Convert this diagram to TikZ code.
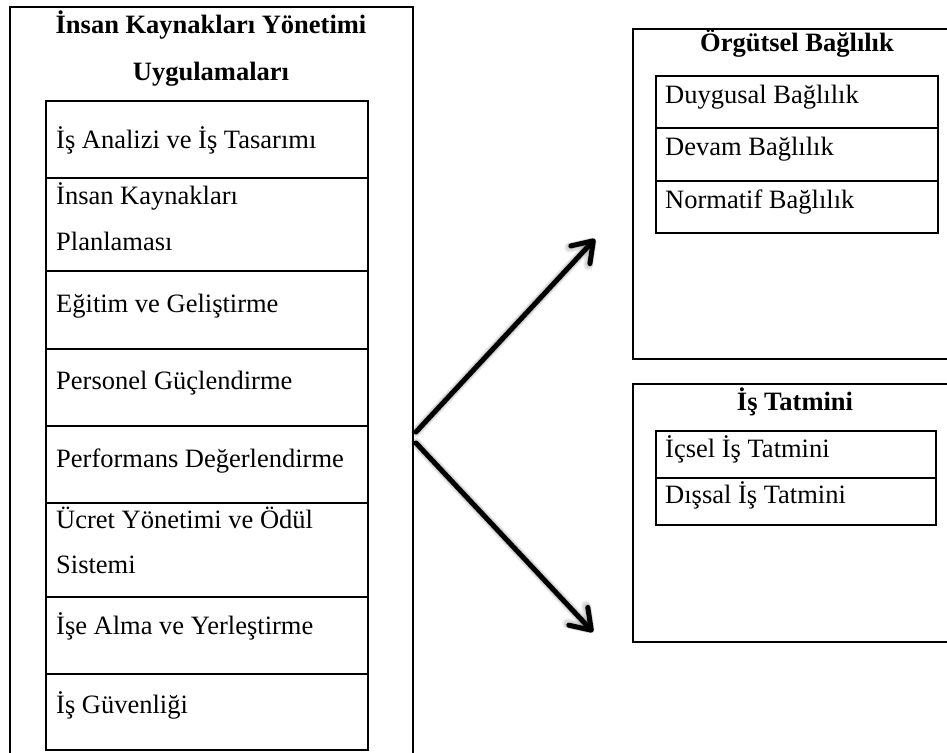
\documentclass[tikz,border=0pt]{standalone}
\usepackage{fontspec}
\setmainfont{Liberation Serif}
\usetikzlibrary{arrows.meta}
\begin{document}
\begin{tikzpicture}[x=1pt,y=-1pt,
  frame/.style={draw, line width=2.3pt, anchor=north west, inner sep=0pt, outer sep=0pt},
  lbl/.style={anchor=base west, inner sep=0pt, font=\fontsize{26.5}{30}\selectfont},
  ttl/.style={anchor=base, inner sep=0pt, font=\fontsize{26.5}{30}\selectfont\bfseries},
  tip/.style={-{Straight Barb[length=19pt,width=26pt,line cap=round,line join=round]}},
  link/.style={tip, line width=5pt, line cap=round, draw=black},
  linkshade/.style={tip, line width=#1, line cap=round, draw=black, opacity=0.08}
]
\useasboundingbox (0,0) rectangle (947,752);
\clip (0,0) rectangle (947,752);

% left panel: HR management practices
\node[frame, minimum width=403pt, minimum height=780pt] (hrm) at (10,7) {};
\node[ttl] (hrmT1) at (211,34) {İnsan Kaynakları Yönetimi};
\node[ttl] (hrmT2) at (211,80) {Uygulamaları};

\node[frame, minimum width=322pt, minimum height=77pt] (r1) at (46,101) {};
\node[frame, minimum width=322pt, minimum height=93pt] (r2) at (46,178) {};
\node[frame, minimum width=322pt, minimum height=78pt] (r3) at (46,271) {};
\node[frame, minimum width=322pt, minimum height=77pt] (r4) at (46,349) {};
\node[frame, minimum width=322pt, minimum height=77pt] (r5) at (46,426) {};
\node[frame, minimum width=322pt, minimum height=94pt] (r6) at (46,503) {};
\node[frame, minimum width=322pt, minimum height=77pt] (r7) at (46,597) {};
\node[frame, minimum width=322pt, minimum height=76pt] (r8) at (46,674) {};

\node[lbl] (t1) at (56,148) {İş Analizi ve İş Tasarımı};
\node[lbl] (t2a) at (56,204) {İnsan Kaynakları};
\node[lbl] (t2b) at (56,250) {Planlaması};
\node[lbl] (t3) at (56,312) {Eğitim ve Geliştirme};
\node[lbl] (t4) at (56,389) {Personel Güçlendirme};
\node[lbl] (t5) at (56,467) {Performans Değerlendirme};
\node[lbl] (t6a) at (56,528) {Ücret Yönetimi ve Ödül};
\node[lbl] (t6b) at (56,573) {Sistemi};
\node[lbl] (t7) at (56,634) {İşe Alma ve Yerleştirme};
\node[lbl] (t8) at (56,713) {İş Güvenliği};

% right panel: organisational commitment
\node[frame, minimum width=330pt, minimum height=330pt] (ob) at (633,29) {};
\node[ttl] (obT) at (797,52) {Örgütsel Bağlılık};
\node[frame, minimum width=282pt, minimum height=52pt] (o1) at (656,76) {};
\node[frame, minimum width=282pt, minimum height=53pt] (o2) at (656,128) {};
\node[frame, minimum width=282pt, minimum height=52pt] (o3) at (656,181) {};
\node[lbl] (ot1) at (665,103) {Duygusal Bağlılık};
\node[lbl] (ot2) at (665,155) {Devam Bağlılık};
\node[lbl] (ot3) at (665,208) {Normatif Bağlılık};

% right panel: job satisfaction
\node[frame, minimum width=330pt, minimum height=258pt] (js) at (633,384) {};
\node[ttl] (jsT) at (795,410) {İş Tatmini};
\node[frame, minimum width=280pt, minimum height=47pt] (j1) at (656,431) {};
\node[frame, minimum width=280pt, minimum height=47pt] (j2) at (656,478) {};
\node[lbl] (jt1) at (665,457) {İçsel İş Tatmini};
\node[lbl] (jt2) at (665,503) {Dışsal İş Tatmini};

% arrows with a soft shadow
\coordinate (upStart) at (416,432);
\coordinate (dnStart) at (416,443);
\coordinate (upTip) at (595,239);
\coordinate (dnTip) at (593,632);
\begin{scope}[shift={(2,3)}]
  \foreach \w in {10pt,8pt,6pt}{
    \draw[linkshade=\w] (upStart) -- (upTip);
    \draw[linkshade=\w] (dnStart) -- (dnTip);
  }
\end{scope}
\draw[link] (upStart) -- (upTip);
\draw[link] (dnStart) -- (dnTip);
\end{tikzpicture}
\end{document}
